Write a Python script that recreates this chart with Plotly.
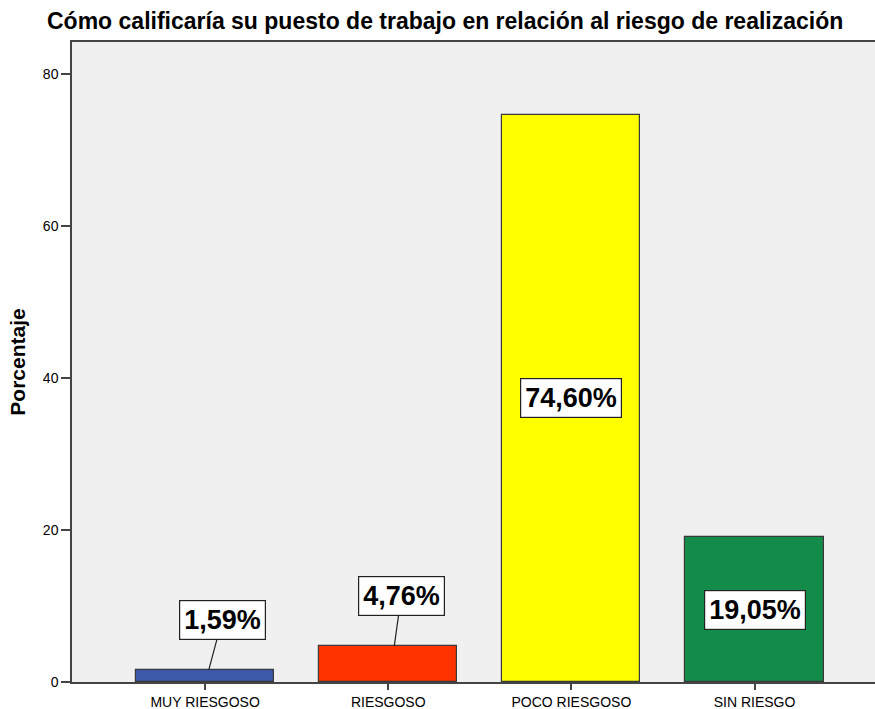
import plotly.graph_objects as go

categories = ["MUY RIESGOSO", "RIESGOSO", "POCO RIESGOSO", "SIN RIESGO"]
values = [1.59, 4.76, 74.60, 19.05]
labels = ["1,59%", "4,76%", "74,60%", "19,05%"]
colors = ["#3D57AB", "#FF3300", "#FFFF00", "#128C48"]
y_ticks = [0, 20, 40, 60, 80]

FONT = "Liberation Sans, Arial, sans-serif"
xpos = list(range(len(categories)))
W, H = 875, 709

fig = go.Figure()
fig.add_trace(go.Bar(
    x=xpos, y=values, width=0.754,
    marker=dict(color=colors, line=dict(color="#3a3a3a", width=1.2)),
    hoverinfo="skip",
))

annotations = []
for i, (v, lab) in enumerate(zip(values, labels)):
    common = dict(text="<b>" + lab + "</b>", xref="x", yref="y",
                  font=dict(family=FONT, size=27, color="black"),
                  bgcolor="white", bordercolor="#222222", borderwidth=1.2,
                  borderpad=4)
    if v < 10:
        annotations.append(dict(
            x=i + 0.02 if i == 0 else i + 0.033, y=v,
            ax=i + 0.093 if i == 0 else i + 0.071, ay=v + 6.6,
            axref="x", ayref="y",
            showarrow=True, arrowhead=0, arrowwidth=1.2, arrowcolor="#222222",
            standoff=0, **common))
    else:
        annotations.append(dict(x=i, y=v / 2, showarrow=False, **common))

fig.update_layout(
    width=W, height=H,
    margin=dict(l=72, r=0, t=42, b=27, autoexpand=False),
    paper_bgcolor="white",
    plot_bgcolor="#F0F0F0",
    showlegend=False,
    bargap=0,
    title=dict(text="<b>Cómo calificaría su puesto de trabajo en relación al riesgo de realización</b>",
               x=47 / W, xanchor="left", y=1 - 21 / H, yanchor="middle",
               font=dict(family=FONT, size=23, color="black")),
    xaxis=dict(
        range=[-0.727, 3.658], tickmode="array", tickvals=xpos, ticktext=categories,
        automargin=False,
        showgrid=False, zeroline=False, showline=True, mirror=True,
        linecolor="#444444", linewidth=1.5,
        ticks="outside", ticklen=6, tickwidth=1.5, tickcolor="#444444",
        tickfont=dict(family=FONT, size=14, color="black"),
    ),
    yaxis=dict(
        range=[0, 84.2], tickmode="array", tickvals=y_ticks,
        automargin=False,
        showgrid=False, zeroline=False, showline=True,
        linecolor="#444444", linewidth=1.5,
        ticks="outside", ticklen=9, tickwidth=1.5, tickcolor="#444444",
        tickfont=dict(family=FONT, size=14, color="black"),
        title=dict(text="<b>Porcentaje</b>", standoff=12,
                   font=dict(family=FONT, size=21, color="black")),
    ),
    annotations=annotations,
)

fig.write_html(
    "out.html",
    config={"displayModeBar": False},
    post_script="document.body.style.margin='0';document.body.style.overflow='hidden';",
)
